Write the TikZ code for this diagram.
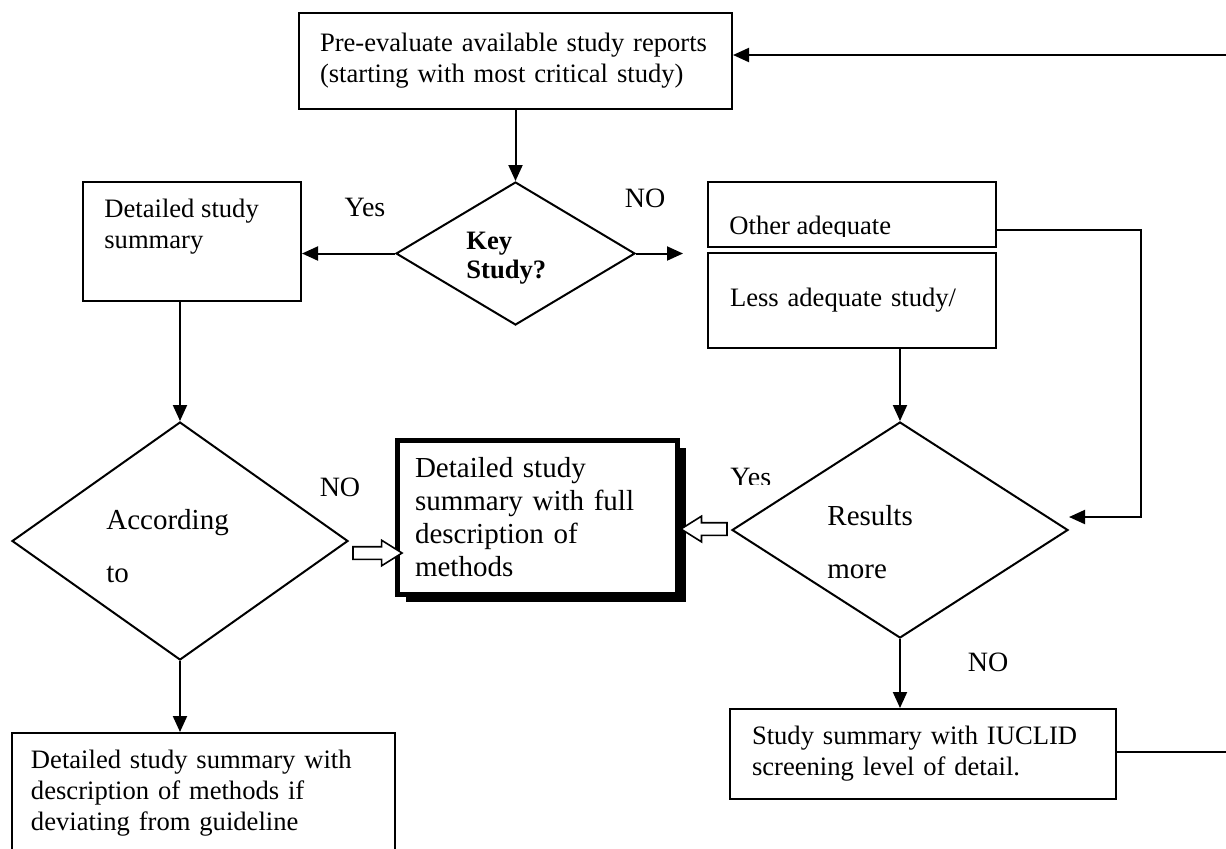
\documentclass[tikz,border=0pt]{standalone}
\usepackage{fontspec}
\setmainfont{Liberation Serif}
\usepackage{tikz}
\usetikzlibrary{shapes.geometric, shapes.arrows, arrows.meta, positioning, calc, shadows}
\tikzset{box/.style={rectangle,draw,line width=1pt,fill=white,align=left,inner sep=0pt,font=\fontsize{13.3}{15.5}\selectfont},
         bigbox/.style={rectangle,draw,line width=2.5pt,fill=white,align=left,inner sep=0pt,font=\fontsize{14.5}{16.5}\selectfont,drop shadow={shadow xshift=4pt,shadow yshift=-3.5pt,fill=black,opacity=1}},
         decision/.style={diamond,draw,line width=1pt,inner sep=0pt},
         txt/.style={align=left,inner sep=0pt,font=\fontsize{13.3}{15.5}\selectfont},
         bigtxt/.style={align=left,inner sep=0pt,font=\fontsize{14.5}{16.5}\selectfont},
         lbl/.style={inner sep=0pt,font=\fontsize{14}{16}\selectfont},
         hollow/.style={single arrow,draw,line width=0.8pt,fill=white,inner sep=2.75pt,single arrow head extend=3.25pt,single arrow tip angle=64},
         arrow/.style={-{Triangle[length=8pt,width=7pt]},line width=1pt}}
\begin{document}
\begin{tikzpicture}[x=0.5pt,y=-0.5pt]
    \clip (0,0) rectangle (1226,848);
    % Start box
    \node (pre) [box, minimum width=216.5pt, minimum height=48pt, text width=195.5pt] at (515.5,61) {Pre-evaluate available study reports\\(starting with most critical study)};
    % Key study decision
    \node (key) [decision, minimum width=119.5pt, minimum height=71.5pt] at (515.5,253.5) {};
    \node (keytxt) [txt, anchor=west, font=\fontsize{13.3}{14.5}\selectfont\bfseries] at (466,258) {Key\\Study?};
    \node (yes1) [lbl] at (365,207) {Yes};
    \node (no1) [lbl] at (645,198) {NO};
    % Left branch
    \node (detail) [box, minimum width=109pt, minimum height=59.5pt] at (192,241.5) {};
    \node (detailtxt) [txt, anchor=west] at (104,227) {Detailed study\\summary};
    \node (accord) [decision, minimum width=168pt, minimum height=119pt] at (180,541) {};
    \node (accordtxt) [bigtxt, anchor=west] at (106,546.5) {According\\[10pt]to};
    \node (no2) [lbl] at (340,487) {NO};
    \node (guide) [box, minimum width=191.5pt, minimum height=60pt, text width=172.5pt] at (203.5,793) {Detailed study summary with\\description of methods if\\deviating from guideline};
    % Full description box
    \node (central) [bigbox, minimum width=140pt, minimum height=77pt, text width=122.5pt] at (537.5,517.5) {Detailed study\\summary with full\\description of\\methods};
    % Right branch
    \node (other) [box, minimum width=144pt, minimum height=32.5pt] at (852,214.5) {};
    \begin{scope}
      \clip (708,182) rectangle (996,236);
      \node (othertxt) [txt, anchor=base west] at (729,234) {Other adequate};
    \end{scope}
    \node (less) [box, minimum width=144pt, minimum height=47.5pt, text width=122pt] at (852,300.5) {Less adequate study/};
    \node (results) [decision, minimum width=168pt, minimum height=108pt] at (900,530) {};
    \node (restxt) [bigtxt, anchor=west] at (827,542) {Results\\[10pt]more};
    \begin{scope}
      \clip (700,440) rectangle (800,484);
      \node (yes2) [lbl, anchor=base west] at (730,486) {Yes};
    \end{scope}
    \node (no3) [lbl] at (988,662) {NO};
    \node (iuclid) [box, minimum width=193pt, minimum height=45pt, text width=171pt] at (923,754) {Study summary with IUCLID\\screening level of detail.};
    % Hollow arrows
    \node (hollowl) [hollow, minimum height=24.5pt] at (372.5,553) {};
    \node (hollowr) [hollow, minimum height=23pt, shape border rotate=180] at (709,529) {};
    % Free ends
    \coordinate (loopback) at (1226,55);
    \coordinate (keyno) at (683,253.5);
    \coordinate (resin) at (1069,517);
    \coordinate (exit) at (1226,752);
    % Connectors
    \draw[arrow] (loopback) -- (loopback -| pre.east);
    \draw[arrow] (pre.south) -- (key.north);
    \draw[arrow] (key.west) -- (key.west -| detail.east);
    \draw[arrow] (key.east) -- (keyno);
    \draw[arrow] (accord.north |- detail.south) -- (accord.north);
    \draw[arrow] (accord.south) -- (accord.south |- guide.north);
    \draw[arrow] ([yshift=-7.75pt]other.east) -| ([xshift=36pt]resin) -- (resin);
    \draw[arrow] (results.north |- less.south) -- (results.north);
    \draw[arrow] (results.south) -- (results.south |- iuclid.north);
    \draw[line width=1pt] (iuclid.east |- exit) -- (exit);
\end{tikzpicture}
\end{document}
